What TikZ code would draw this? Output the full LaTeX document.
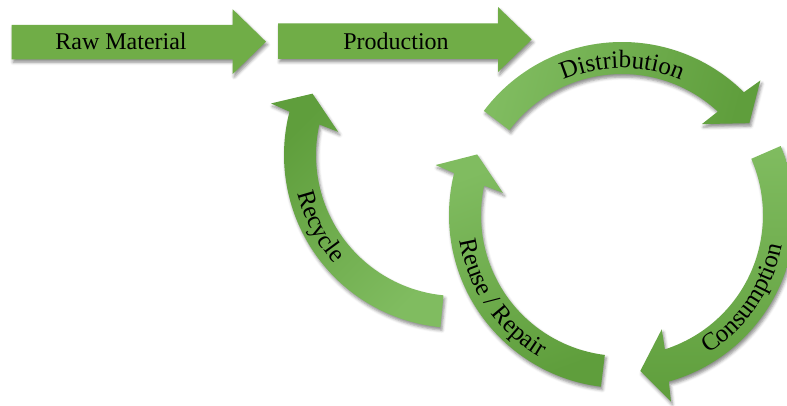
\documentclass[tikz,border=0pt]{standalone}
\usepackage{fontspec}
\setmainfont{Liberation Serif}
\usetikzlibrary{calc,decorations.text,shadows.blur}

\definecolor{blockgreen}{HTML}{70AD47}
\definecolor{ringlight}{HTML}{80BC60}
\definecolor{ringdark}{HTML}{5F9E3C}

\tikzset{
  softshadow/.style={blur shadow={shadow xshift=1.5pt, shadow yshift=-3pt,
      shadow blur radius=3pt, shadow opacity=45}},
  blockarrow/.style={fill=blockgreen, softshadow},
  ringfill/.style={softshadow, shade, top color=ringlight, bottom color=ringdark,
      shading angle=#1},
  labeltext/.style={font=\fontsize{24}{28}\selectfont, inner sep=0pt, anchor=base},
  ringtext/.style={decorate, decoration={text along path, text align=center,
      text={|\fontsize{25}{30}\selectfont|#1}}},
}

% curved band arrow: #1 centre, #2 tail angle, #3 head base angle,
% #4 tip angle, #5 name, #6 shading angle
\newcommand{\bentarrow}[6]{%
  \path[ringfill=#6] ($(#1)+(#2:173)$) coordinate (#5-tail)
    arc[start angle=#2, end angle={#3-1}, radius=173]
    -- ($(#1)+({#3-2}:193)$)
    -- ($(#1)+(#4:157)$) coordinate (#5-tip)
    -- ($(#1)+({#3+2.5}:121)$)
    -- ($(#1)+({#3+1}:141)$)
    arc[start angle={#3+1}, end angle=#2, radius=141]
    -- cycle;}

\begin{document}
\begin{tikzpicture}[x=1pt, y=1pt]
\path[use as bounding box] (0,0) rectangle (787,405);

% straight process arrows
\path[blockarrow] (11.7,380) -- (232.7,380) -- (232.7,395.7) -- (266,363.3)
  -- (232.7,331) -- (232.7,345.7) -- (11.7,345.7) -- cycle;
\path[blockarrow] (278,381.5) -- (498,381.5) -- (498,398) -- (531.7,365.5)
  -- (498,333) -- (498,346) -- (278,346) -- cycle;
\node[labeltext] (rawlabel) at (121,355) {Raw Material};
\node[labeltext] (prodlabel) at (396,355.7) {Production};

% centres of the two rings
\coordinate (ring) at (622,190);
\coordinate (loop) at (457,250);

% curved arrows
\bentarrow{ring}{143}{46.2}{35.8}{distribution}{75}
\bentarrow{ring}{23.5}{-73.3}{-83.3}{consumption}{0}
\bentarrow{ring}{263}{167}{157.3}{reuse}{20}
\bentarrow{loop}{264.5}{166.5}{157}{recycle}{225}

% labels along the curved arrows
\path[ringtext=Distribution] ($(ring)+(140:147)$)
  arc[start angle=140, end angle=40, radius=147];
\path[ringtext=Consumption] ($(ring)+(-84.5:163)$)
  arc[start angle=-84.5, end angle=15.5, radius=163];
\path[ringtext={Reuse / Repair}] ($(ring)+(164.5:164)$)
  arc[start angle=164.5, end angle=264.5, radius=164];
\path[ringtext=Recycle] ($(loop)+(167.5:164)$)
  arc[start angle=167.5, end angle=247.5, radius=164];
\end{tikzpicture}
\end{document}
